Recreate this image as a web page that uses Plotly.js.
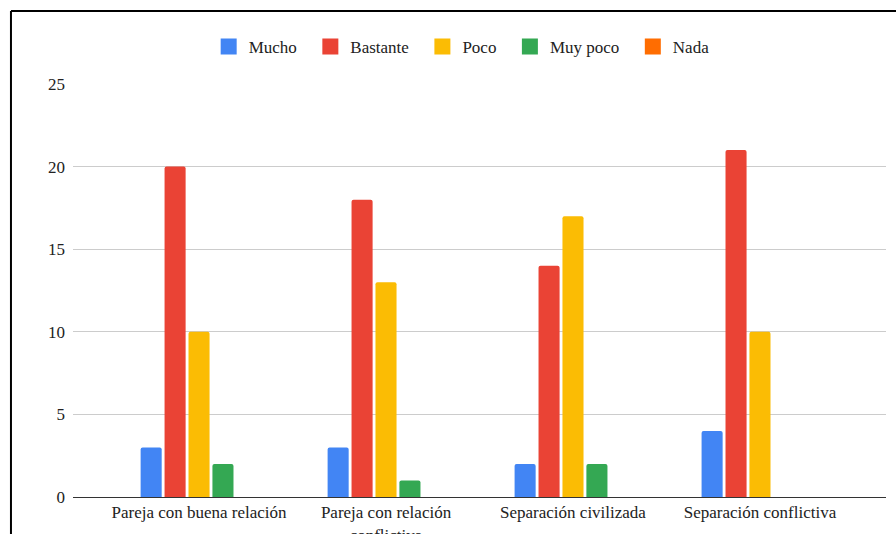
<!DOCTYPE html>
<html><head><meta charset="utf-8">
<script src="https://cdn.plot.ly/plotly-3.0.1.min.js"></script>
<style>html,body{margin:0;padding:0;background:#fff;}#chart{width:896px;height:534px;}</style>
</head><body><div id="chart"></div>
<script>
const categories = ["Pareja con buena relación", "Pareja con relación<br>conflictiva", "Separación civilizada", "Separación conflictiva"];
const mucho = [3, 3, 2, 4];
const bastante = [20, 18, 14, 21];
const poco = [10, 13, 17, 10];
const muyPoco = [2, 1, 2, 0];
const nada = [0, 0, 0, 0];
const seriesNames = ["Mucho", "Bastante", "Poco", "Muy poco", "Nada"];
const seriesValues = [mucho, bastante, poco, muyPoco, nada];
const colors = ["#4285F4", "#EA4335", "#FBBC04", "#34A853", "#FF6D01"];

const traces = seriesNames.map((n, i) => ({
  type: 'bar', name: n, x: [0,1,2,3], y: seriesValues[i], legendgroup: n, showlegend: false,
  marker: {color: colors[i], cornerradius: 2}, hoverinfo: 'y'
}));
// legend entries with larger square swatches
seriesNames.forEach((n, i) => traces.push({
  type: 'scatter', mode: 'markers', name: n + '\u00a0\u00a0', x: [null], y: [null], legendgroup: n,
  marker: {symbol: 'square', size: 17, color: colors[i]}
}));

const layout = {
  width: 896, height: 534,
  margin: {l: 73, r: 10, t: 84, b: 37},
  paper_bgcolor: '#fff', plot_bgcolor: '#fff',
  font: {family: '"Liberation Serif", "DejaVu Serif", serif', size: 17, color: '#222'},
  barmode: 'group', bargap: 0.36, bargroupgap: 0.12,
  showlegend: true,
  legend: {orientation: 'h', x: 0.483, xanchor: 'center', y: 1.09, yanchor: 'middle',
           font: {size: 17, color: '#222'}, itemwidth: 30, traceorder: 'normal', itemsizing: 'trace'},
  xaxis: {range: [-0.674, 3.674], tickvals: [0,1,2,3], ticktext: categories,
          showgrid: false, zeroline: false, showline: true, linecolor: '#333', linewidth: 1,
          ticks: '', tickfont: {size: 17, color: '#222'}, fixedrange: true},
  yaxis: {range: [0, 25], dtick: 5, showgrid: true, gridcolor: '#ccc', gridwidth: 1,
          zeroline: false, showline: false, ticks: '', ticklabelstandoff: 7,
          tickfont: {size: 17, color: '#222'}, fixedrange: true},
  shapes: [
    {type: 'line', xref: 'paper', yref: 'paper', x0: -0.0763, x1: 1.1, y0: 1.1768, y1: 1.1768, line: {color: '#000', width: 2}},
    {type: 'line', xref: 'paper', yref: 'paper', x0: -0.0763, x1: -0.0763, y0: 1.1768, y1: -0.2, line: {color: '#000', width: 2}}
  ]
};
Plotly.newPlot('chart', traces, layout, {displayModeBar: false, staticPlot: true});
</script></body></html>
